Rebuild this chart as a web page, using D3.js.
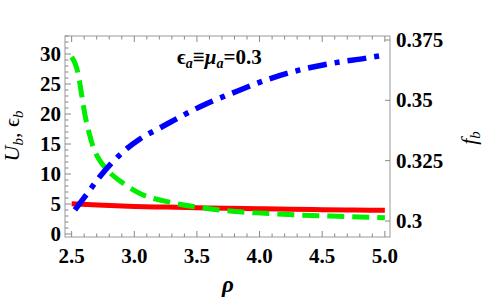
<!DOCTYPE html>
<html><head><meta charset="utf-8">
<script src="https://cdn.jsdelivr.net/npm/d3@7/dist/d3.min.js"></script>
<style>svg text{font-family:"Liberation Serif" !important;}</style>
</head>
<body style="margin:0"><svg id="c" width="485" height="304"></svg>
<script>
// ---- data ----
const redRho = [2.5, 2.75, 3.0, 3.25, 3.5, 3.75, 4.0, 4.25, 4.5, 4.75, 5.0];
const redU   = [5.05, 4.8, 4.6, 4.48, 4.38, 4.28, 4.2, 4.12, 4.06, 4.0, 3.95];

const greenRho = [2.5, 2.53, 2.554, 2.58, 2.607, 2.64, 2.672, 2.72, 2.778, 2.85, 2.909, 3.041, 3.304, 3.568, 3.805, 4.042, 4.305, 4.566, 4.8, 5.0];
const greenEps = [29.5, 28.3, 26.5, 23.2, 19.8, 16.8, 14.5, 12.4, 10.8, 9.4, 8.5, 6.8, 5.2, 4.3, 3.75, 3.45, 3.17, 3.0, 2.85, 2.7];

const blueRho = [2.526, 2.606, 2.726, 2.909, 3.045, 3.205, 3.572, 3.787, 4.056, 4.321, 4.585, 4.854, 5.0];
const blueF   = [0.3046, 0.3101, 0.3184, 0.3286, 0.334, 0.3386, 0.3485, 0.3531, 0.3585, 0.3626, 0.3654, 0.3675, 0.3688];

const xTicks = [2.5, 3.0, 3.5, 4.0, 4.5, 5.0];
const yLeftTicks = [0, 5, 10, 15, 20, 25, 30];
const yRightTicks = [0.3, 0.325, 0.35, 0.375];
const yRightLabels = ["0.3", "0.325", "0.35", "0.375"];

// ---- layout ----
const L = 65, R = 390, T = 36, B = 237;
const svg = d3.select("#c");
const x = d3.scaleLinear().domain([2.447, 5.041]).range([L, R]);
const yL = d3.scaleLinear().domain([-0.5, 33.0]).range([B, T]);
const yR = d3.scaleLinear().domain([0.29337, 0.37666]).range([B, T]);
const tickCol = "#888";

function txt(parent) {
  return parent.append("text").attr("font-family", "Liberation Serif").attr("fill", "#000");
}

svg.append("rect").attr("x", L).attr("y", T).attr("width", R - L).attr("height", B - T)
  .attr("fill", "none").attr("stroke", "#999").attr("stroke-width", 1);

const xMinor = d3.range(25, 51).map(v => v / 10);
xMinor.forEach(v => {
  const major = Math.abs(v * 2 - Math.round(v * 2)) < 1e-6;
  const len = major ? 6 : 3.5;
  svg.append("line").attr("x1", x(v)).attr("x2", x(v)).attr("y1", B).attr("y2", B - len).attr("stroke", tickCol);
  svg.append("line").attr("x1", x(v)).attr("x2", x(v)).attr("y1", T).attr("y2", T + len).attr("stroke", tickCol);
});
d3.range(0, 34).forEach(v => {
  const len = v % 5 === 0 ? 6 : 3.5;
  svg.append("line").attr("x1", L).attr("x2", L + len).attr("y1", yL(v)).attr("y2", yL(v)).attr("stroke", tickCol);
});
yRightTicks.forEach(v => {
  svg.append("line").attr("x1", R).attr("x2", R - 5).attr("y1", yR(v)).attr("y2", yR(v)).attr("stroke", tickCol);
});

xTicks.forEach(v => {
  txt(svg).attr("x", x(v)).attr("y", 263).attr("text-anchor", "middle")
    .attr("font-size", 21).attr("font-weight", "bold").text(v.toFixed(1));
});
yLeftTicks.forEach(v => {
  txt(svg).attr("x", 61).attr("y", yL(v) + 7).attr("text-anchor", "end")
    .attr("font-size", 21).attr("font-weight", "bold").text(v);
});
yRightTicks.forEach((v, i) => {
  txt(svg).attr("x", 396).attr("y", yR(v) + 7)
    .attr("font-size", 21).attr("font-weight", "bold").text(yRightLabels[i]);
});

svg.append("clipPath").attr("id", "clp").append("rect")
  .attr("x", L).attr("y", T).attr("width", R - L).attr("height", B - T);
const curves = svg.append("g").attr("clip-path", "url(#clp)");

const lineL = d3.line().x(d => x(d[0])).y(d => yL(d[1])).curve(d3.curveMonotoneX);
const lineR = d3.line().x(d => x(d[0])).y(d => yR(d[1])).curve(d3.curveMonotoneX);

curves.append("path").datum(redRho.map((r, i) => [r, redU[i]]))
  .attr("d", lineL).attr("fill", "none").attr("stroke", "#ff0000").attr("stroke-width", 5);
curves.append("path").datum(greenRho.map((r, i) => [r, greenEps[i]]))
  .attr("d", lineL).attr("fill", "none").attr("stroke", "#00ee00").attr("stroke-width", 5)
  .attr("stroke-dasharray", "17,8");
curves.append("path").datum(blueRho.map((r, i) => [r, blueF[i]]))
  .attr("d", lineR).attr("fill", "none").attr("stroke", "#0000ff").attr("stroke-width", 5.5)
  .attr("stroke-dasharray", "19,8,5,8");

const yl = txt(svg).attr("transform", "translate(19,136) rotate(-90)")
  .attr("text-anchor", "middle").attr("font-size", 22).attr("font-style", "italic");
yl.append("tspan").text("U");
yl.append("tspan").attr("font-size", 15).attr("dy", 4).text("b");
yl.append("tspan").attr("dy", -4).attr("font-style", "normal").text(", \u03F5");
yl.append("tspan").attr("font-size", 15).attr("dy", 4).text("b");

const yr = txt(svg).attr("transform", "translate(476,138) rotate(-90)")
  .attr("text-anchor", "middle").attr("font-size", 22).attr("font-style", "italic");
yr.append("tspan").text("f");
yr.append("tspan").attr("font-size", 15).attr("dy", 4).text("b");

txt(svg).attr("x", 228).attr("y", 292).attr("text-anchor", "middle")
  .attr("font-size", 23).attr("font-style", "italic").attr("font-weight", "bold").text("\u03C1");

const an = txt(svg).attr("x", 177).attr("y", 64).attr("font-size", 21).attr("font-weight", "bold");
an.append("tspan").text("\u03F5");
an.append("tspan").attr("font-size", 14).attr("font-style", "italic").attr("dy", 4).text("a");
an.append("tspan").attr("dy", -4).text("\u2261");
an.append("tspan").attr("font-style", "italic").text("\u03BC");
an.append("tspan").attr("font-size", 14).attr("font-style", "italic").attr("dy", 4).text("a");
an.append("tspan").attr("dy", -4).text("=0.3");
</script></body></html>
